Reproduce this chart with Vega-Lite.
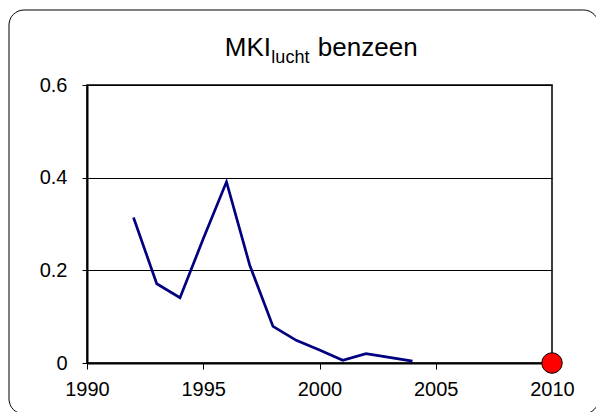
{
  "$schema": "https://vega.github.io/schema/vega-lite/v6.json",
  "width": 465,
  "height": 278,
  "autosize": {"type": "none"},
  "padding": {"left": 87, "top": 85, "right": 44, "bottom": 49},
  "background": "white",
  "config": {
    "font": "Liberation Sans",
    "view": {"stroke": "black", "strokeWidth": 1.5}
  },
  "datasets": {
    "frame": [{"x1": 1986.645, "x2": 2012.0, "y1": 0.7619, "y2": -0.11}],
    "series": [
      {"year": 1992, "value": 0.314},
      {"year": 1993, "value": 0.171},
      {"year": 1994, "value": 0.141},
      {"year": 1995, "value": 0.268},
      {"year": 1996, "value": 0.391},
      {"year": 1997, "value": 0.211},
      {"year": 1998, "value": 0.079},
      {"year": 1999, "value": 0.049},
      {"year": 2000, "value": 0.028},
      {"year": 2001, "value": 0.006},
      {"year": 2002, "value": 0.020},
      {"year": 2003, "value": 0.012},
      {"year": 2004, "value": 0.004}
    ],
    "target": [{"year": 2010, "value": 0}],
    "title": [
      {"x": 1995.93, "y": 0.6626, "label": "MKI", "size": 26},
      {"x": 1997.93, "y": 0.6475, "label": "lucht", "size": 18},
      {"x": 1999.93, "y": 0.6626, "label": "benzeen", "size": 26}
    ]
  },
  "layer": [
    {
      "data": {"name": "frame"},
      "mark": {"type": "rect", "fill": "transparent", "stroke": "black", "strokeWidth": 1, "cornerRadius": 15, "clip": false},
      "encoding": {
        "x": {"field": "x1", "type": "quantitative", "scale": {"domain": [1990, 2010], "nice": false, "zero": false}},
        "x2": {"field": "x2"},
        "y": {"field": "y1", "type": "quantitative", "scale": {"domain": [0, 0.6], "nice": false}},
        "y2": {"field": "y2"}
      }
    },
    {
      "data": {"name": "series"},
      "mark": {"type": "line", "color": "#000080", "strokeWidth": 2.7},
      "encoding": {
        "x": {
          "field": "year", "type": "quantitative",
          "scale": {"domain": [1990, 2010], "nice": false, "zero": false},
          "axis": {
            "title": null, "values": [1990, 1995, 2000, 2005, 2010], "format": "d",
            "grid": false, "domainColor": "black", "domainWidth": 2,
            "tickColor": "black", "tickSize": 6, "tickWidth": 1,
            "labelColor": "black", "labelFontSize": 20, "labelPadding": 10,
            "labelFlush": false, "labelFont": "Liberation Sans"
          }
        },
        "y": {
          "field": "value", "type": "quantitative",
          "scale": {"domain": [0, 0.6], "nice": false},
          "axis": {
            "title": null, "values": [0, 0.2, 0.4, 0.6], "format": ".1~f",
            "grid": true, "gridColor": "black", "gridWidth": 1, "gridOpacity": 1,
            "domainColor": "black", "domainWidth": 2,
            "tickColor": "black", "tickSize": 5, "tickWidth": 1,
            "labelColor": "black", "labelFontSize": 20, "labelPadding": 15,
            "labelFlush": false, "labelFont": "Liberation Sans"
          }
        }
      }
    },
    {
      "data": {"name": "target"},
      "mark": {"type": "point", "filled": true, "fill": "#ff0000", "stroke": "black", "strokeWidth": 1, "size": 420, "opacity": 1, "clip": false},
      "encoding": {
        "x": {"field": "year", "type": "quantitative"},
        "y": {"field": "value", "type": "quantitative"}
      }
    },
    {
      "data": {"name": "title"},
      "mark": {"type": "text", "align": "left", "baseline": "alphabetic", "color": "black", "font": "Liberation Sans"},
      "encoding": {
        "x": {"field": "x", "type": "quantitative"},
        "y": {"field": "y", "type": "quantitative"},
        "text": {"field": "label"},
        "size": {"field": "size", "type": "quantitative", "scale": null}
      }
    }
  ]
}
